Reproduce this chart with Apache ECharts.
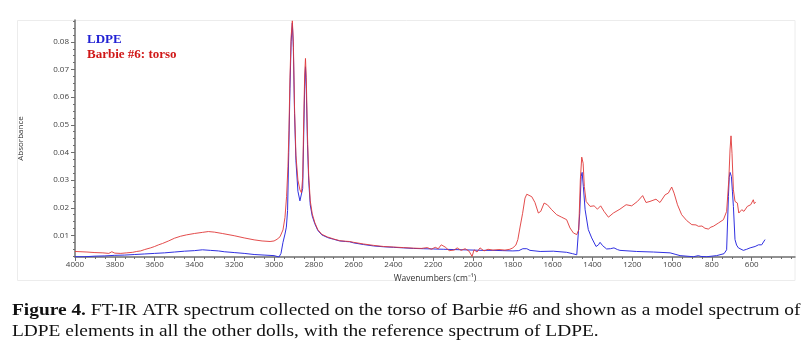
<!DOCTYPE html>
<html>
<head>
<meta charset="utf-8">
<title>FT-IR ATR spectrum - Barbie #6 torso vs LDPE</title>
<script src="https://cdn.jsdelivr.net/npm/echarts@6/dist/echarts.min.js"></script>
<style>
    html, body { margin: 0; padding: 0; background: #fff; }
    #myChart { width: 809px; height: 353px; }
</style>
</head>
<body>
<div id="myChart"></div>

<script>
// wavenumber (cm-1) / absorbance
var ldpeWn = [4000, 3950, 3900, 3850, 3800, 3750, 3700, 3650, 3600, 3550, 3500, 3450, 3400, 3360, 3320, 3280, 3250, 3200, 3150, 3100,
    3050, 3000, 2990, 2975, 2965, 2955, 2945, 2938, 2932, 2926, 2920, 2914, 2908, 2903, 2897, 2890, 2880, 2870, 2862, 2856,
    2851, 2846, 2842, 2838, 2832, 2826, 2818, 2808, 2795, 2780, 2760, 2730, 2700, 2670, 2640, 2620, 2600, 2550, 2500, 2450,
    2400, 2350, 2300, 2250, 2200, 2150, 2100, 2050, 2000, 1950, 1900, 1850, 1800, 1770, 1750, 1740, 1730, 1714, 1663, 1597,
    1530, 1500, 1479, 1469, 1464, 1457, 1452, 1446, 1437, 1421, 1404, 1382, 1370, 1362, 1349, 1329, 1310, 1292, 1275, 1262,
    1178, 1094, 1010, 985, 960, 893, 880, 868, 855, 826, 776, 739, 726, 717, 713, 709, 702, 697, 692, 684,
    676, 667, 642, 625, 608, 583, 566, 558, 550, 540, 533];
var ldpeAbs = [0.0023, 0.0023, 0.0025, 0.0026, 0.0028, 0.0029, 0.0031, 0.0033, 0.0035, 0.0037, 0.0040, 0.0043, 0.0045, 0.0048, 0.0046, 0.0044, 0.0041, 0.0038, 0.0035, 0.0031,
    0.0029, 0.0027, 0.0024, 0.0022, 0.0035, 0.0075, 0.0105, 0.0130, 0.0190, 0.0400, 0.0630, 0.0800, 0.0868, 0.0780, 0.0540, 0.0370, 0.0260, 0.0225, 0.0218, 0.0270,
    0.0460, 0.0640, 0.0710, 0.0630, 0.0430, 0.0300, 0.0210, 0.0170, 0.0142, 0.0118, 0.0102, 0.0092, 0.0086, 0.0080, 0.0078, 0.0077, 0.0073, 0.0067, 0.0062, 0.0059,
    0.0057, 0.0055, 0.0053, 0.0052, 0.0051, 0.0050, 0.0049, 0.0048, 0.0047, 0.0046, 0.0046, 0.0045, 0.0044, 0.0045, 0.0052, 0.0058, 0.0052, 0.0046, 0.0042, 0.0043,
    0.0039, 0.0034, 0.0030, 0.0024, 0.0180, 0.0313, 0.0328, 0.0277, 0.0193, 0.0121, 0.0091, 0.0060, 0.0066, 0.0075, 0.0063, 0.0051, 0.0052, 0.0055, 0.0049, 0.0046,
    0.0042, 0.0040, 0.0037, 0.0032, 0.0027, 0.0023, 0.0025, 0.0027, 0.0024, 0.0023, 0.0027, 0.0034, 0.0048, 0.0241, 0.0310, 0.0328, 0.0313, 0.0260, 0.0205, 0.0085,
    0.0065, 0.0055, 0.0046, 0.0050, 0.0055, 0.0060, 0.0066, 0.0072, 0.0066, 0.0072, 0.0085];

var torsoWn = [4000, 3970, 3940, 3900, 3860, 3830, 3815, 3800, 3770, 3740, 3710, 3690, 3680, 3670, 3650, 3620, 3600, 3580, 3560, 3530,
    3500, 3470, 3440, 3400, 3360, 3330, 3300, 3260, 3200, 3150, 3100, 3060, 3020, 3000, 2985, 2970, 2955, 2945, 2937, 2930,
    2925, 2920, 2914, 2908, 2903, 2897, 2890, 2880, 2870, 2862, 2856, 2851, 2846, 2842, 2838, 2832, 2826, 2818, 2808, 2795,
    2780, 2760, 2730, 2700, 2670, 2640, 2620, 2600, 2550, 2500, 2450, 2400, 2350, 2300, 2260, 2230, 2210, 2190, 2175, 2160,
    2150, 2140, 2130, 2120, 2110, 2095, 2080, 2060, 2040, 2020, 2005, 1995, 1980, 1965, 1955, 1945, 1925, 1900, 1870, 1840,
    1815, 1800, 1785, 1775, 1764, 1751, 1739, 1730, 1722, 1705, 1689, 1672, 1660, 1643, 1627, 1605, 1580, 1555, 1530, 1513,
    1496, 1479, 1469, 1461, 1454, 1447, 1441, 1432, 1412, 1392, 1375, 1359, 1342, 1320, 1295, 1262, 1231, 1203, 1174, 1148,
    1131, 1111, 1081, 1061, 1035, 1019, 1002, 990, 973, 952, 927, 901, 880, 868, 860, 850, 843, 835, 818, 805,
    793, 767, 742, 726, 715, 709, 704, 699, 692, 684, 672, 665, 650, 639, 622, 605, 592, 587, 580];
var torsoAbs = [0.0042, 0.0041, 0.0040, 0.0038, 0.0037, 0.0035, 0.0041, 0.0036, 0.0035, 0.0037, 0.0039, 0.0042, 0.0047, 0.0044, 0.0049, 0.0055, 0.0060, 0.0066, 0.0071, 0.0080,
    0.0090, 0.0097, 0.0102, 0.0107, 0.0111, 0.0114, 0.0112, 0.0107, 0.0099, 0.0091, 0.0084, 0.0080, 0.0078, 0.0080, 0.0086, 0.0095, 0.0120, 0.0165, 0.0240, 0.0350,
    0.0480, 0.0670, 0.0820, 0.0876, 0.0800, 0.0560, 0.0390, 0.0300, 0.0265, 0.0254, 0.0310, 0.0510, 0.0680, 0.0740, 0.0670, 0.0460, 0.0320, 0.0225, 0.0178, 0.0146,
    0.0121, 0.0104, 0.0094, 0.0087, 0.0081, 0.0079, 0.0078, 0.0075, 0.0069, 0.0064, 0.0060, 0.0058, 0.0056, 0.0054, 0.0053, 0.0056, 0.0050, 0.0057, 0.0052, 0.0066,
    0.0073, 0.0058, 0.0063, 0.0045, 0.0052, 0.0047, 0.0055, 0.0046, 0.0052, 0.0043, 0.0024, 0.0048, 0.0040, 0.0055, 0.0058, 0.0044, 0.0050, 0.0047, 0.0049, 0.0047,
    0.0050, 0.0055, 0.0065, 0.0085, 0.0130, 0.0180, 0.0235, 0.0249, 0.0248, 0.0240, 0.0219, 0.0181, 0.0187, 0.0217, 0.0211, 0.0193, 0.0175, 0.0166, 0.0157, 0.0127,
    0.0109, 0.0103, 0.0121, 0.0301, 0.0383, 0.0361, 0.0277, 0.0223, 0.0205, 0.0207, 0.0195, 0.0207, 0.0187, 0.0166, 0.0181, 0.0195, 0.0211, 0.0207, 0.0223, 0.0244,
    0.0219, 0.0223, 0.0231, 0.0219, 0.0247, 0.0253, 0.0275, 0.0253, 0.0211, 0.0175, 0.0154, 0.0139, 0.0138, 0.0133, 0.0128, 0.0134, 0.0130, 0.0126, 0.0123, 0.0130,
    0.0133, 0.0145, 0.0157, 0.0187, 0.0301, 0.0409, 0.0460, 0.0397, 0.0265, 0.0223, 0.0217, 0.0181, 0.0193, 0.0187, 0.0205, 0.0211, 0.0229, 0.0215, 0.0221];

// tick labels
var xTicks = [4000, 3800, 3600, 3400, 3200, 3000, 2800, 2600, 2400, 2200, 2000, 1800, 1600, 1400, 1200, 1000, 800, 600];
var yTicks = [0.01, 0.02, 0.03, 0.04, 0.05, 0.06, 0.07, 0.08];

var xMinor = [];
for (var w = 4000; w >= 400; w -= 50) { xMinor.push(w); }
var yMinor = [];
for (var k = 1; k <= 35; k++) { yMinor.push(+(k * 0.0025).toFixed(4)); }

function pairs(xs, ys) {
    var out = [];
    for (var i = 0; i < xs.length; i++) { out.push([xs[i], ys[i]]); }
    return out;
}

var axisColor = '#6e6e6e';
var labelFont = { fontFamily: 'Open Sans', fontSize: 8, color: '#444' };
var serif = 'Liberation Serif';

var myChart = echarts.init(document.getElementById('myChart'));
var option = {
    animation: false,
    backgroundColor: '#fff',
    grid: { left: 75, right: 14, top: 20, bottom: 96 },
    legend: {
        orient: 'vertical',
        left: 82, top: 33,
        padding: 0,
        itemWidth: 0, itemHeight: 12, itemGap: 2.5,
        icon: 'none',
        selectedMode: false,
        textStyle: { fontFamily: serif, fontWeight: 'bold', fontSize: 13 },
        data: [
            { name: 'LDPE', textStyle: { color: '#2222d4' } },
            { name: 'Barbie #6: torso', textStyle: { color: '#d01818' } }
        ]
    },
    xAxis: [
        {
            type: 'value', inverse: true, min: 382.5, max: 4000,
            name: 'Wavenumbers (cm\u207B\u00B9)',
            nameLocation: 'middle', nameGap: 17,
            nameTextStyle: { fontFamily: 'Open Sans', fontSize: 8.5, color: '#333' },
            axisLine: { lineStyle: { color: axisColor, width: 1.5 } },
            axisTick: { customValues: xTicks, length: 4, lineStyle: { color: axisColor } },
            axisLabel: Object.assign({
                customValues: xTicks, margin: 4,
                formatter: function (v) { return String(v); }
            }, labelFont),
            splitLine: { show: false }
        },
        {
            type: 'value', inverse: true, min: 382.5, max: 4000, position: 'bottom',
            axisLine: { show: false },
            axisTick: { customValues: xMinor, length: 2, lineStyle: { color: axisColor } },
            axisLabel: { show: false },
            splitLine: { show: false }
        }
    ],
    yAxis: [
        {
            type: 'value', min: 0.0022, max: 0.0879,
            name: 'Absorbance',
            nameLocation: 'middle', nameGap: 50,
            nameTextStyle: { fontFamily: 'Open Sans', fontSize: 8, color: '#333' },
            axisLine: { show: true, lineStyle: { color: axisColor, width: 1.5 } },
            axisTick: { show: true, customValues: yTicks, length: 4, lineStyle: { color: axisColor } },
            axisLabel: Object.assign({
                customValues: yTicks, margin: 6,
                formatter: function (v) { return v.toFixed(2); }
            }, labelFont),
            splitLine: { show: false }
        },
        {
            type: 'value', min: 0.0022, max: 0.0879, position: 'left',
            axisLine: { show: false },
            axisTick: { show: true, customValues: yMinor, length: 2, lineStyle: { color: axisColor } },
            axisLabel: { show: false },
            splitLine: { show: false }
        }
    ],
    graphic: [
        {
            type: 'rect', z: -1, silent: true,
            shape: { x: 17.5, y: 20.5, width: 777.5, height: 260 },
            style: { fill: 'none', stroke: '#ececec', lineWidth: 1 }
        },
        {
            // caption, stretched a little to match the wider book face of the original
            type: 'text', x: 12, y: 300, scaleX: 1.14, originX: 0, originY: 0,
            style: {
                text: '{b|Figure 4.}{n| FT-IR ATR spectrum collected on the torso of Barbie #6 and shown as a model spectrum of}\n' +
                      '{n|LDPE elements in all the other dolls, with the reference spectrum of LDPE.}',
                fontFamily: serif, fontSize: 17, lineHeight: 21, fill: '#111',
                rich: {
                    b: { fontFamily: serif, fontSize: 17, fontWeight: 'bold', fill: '#111', lineHeight: 21 },
                    n: { fontFamily: serif, fontSize: 17, fill: '#111', lineHeight: 21 }
                }
            }
        }
    ],
    series: [
        {
            name: 'LDPE', type: 'line', xAxisIndex: 0, yAxisIndex: 0,
            showSymbol: false, symbol: 'none',
            lineStyle: { color: '#3030e0', width: 1 },
            itemStyle: { color: '#3030e0' },
            data: pairs(ldpeWn, ldpeAbs)
        },
        {
            name: 'Barbie #6: torso', type: 'line', xAxisIndex: 0, yAxisIndex: 0,
            showSymbol: false, symbol: 'none',
            lineStyle: { color: '#e03838', width: 1, opacity: 0.9 },
            itemStyle: { color: '#e03838' },
            data: pairs(torsoWn, torsoAbs)
        }
    ]
};
myChart.setOption(option);
</script>
</body>
</html>
